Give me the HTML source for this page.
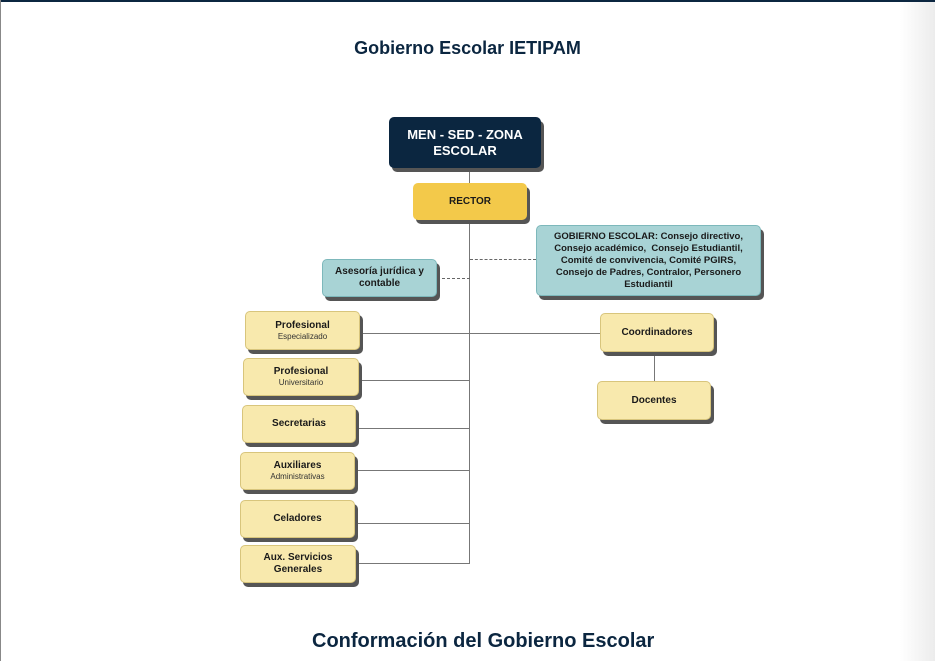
<!DOCTYPE html>
<html><head><meta charset="utf-8"><style>
body{margin:0;width:935px;height:661px;position:relative;overflow:hidden;background:#fff;font-family:"Liberation Sans",sans-serif}
.b{position:absolute;box-sizing:border-box;border-radius:5px;display:flex;flex-direction:column;align-items:center;justify-content:center;text-align:center;font-weight:bold;font-size:10px;color:#1a1a1a;box-shadow:3px 4px 0 #555;line-height:12px}
.y{background:#f8e9ad;border:1px solid #d8c57c}
.t{background:#a8d3d5;border:1px solid #7db8bb}
.s{font-weight:normal;font-size:8px;line-height:10px;color:#333}
.l{position:absolute;background:#777}
.d{position:absolute;border-top:1px dashed #666;height:0}
</style></head><body>
<div style="position:absolute;left:0;top:0;width:935px;height:2px;background:#0b2640"></div>
<div style="position:absolute;left:0;top:0;width:1px;height:661px;background:#888"></div>
<div style="position:absolute;left:900px;top:2px;width:35px;height:659px;background:linear-gradient(to right,#fff,#ececec)"></div>
<div style="position:absolute;left:0;width:935px;top:38px;text-align:center;font-size:18px;font-weight:bold;color:#0b2640">Gobierno Escolar IETIPAM</div>
<div style="position:absolute;left:312px;top:630px;font-size:20px;font-weight:bold;color:#0b2640">Conformación del Gobierno Escolar</div>

<div class="l" style="left:469px;top:168px;width:1px;height:396px"></div>
<div class="d" style="left:470px;top:259px;width:66px"></div>
<div class="d" style="left:437px;top:278px;width:33px"></div>
<div class="l" style="left:360px;top:333px;width:240px;height:1px"></div>
<div class="l" style="left:359px;top:380px;width:111px;height:1px"></div>
<div class="l" style="left:356px;top:428px;width:114px;height:1px"></div>
<div class="l" style="left:355px;top:470px;width:115px;height:1px"></div>
<div class="l" style="left:355px;top:523px;width:115px;height:1px"></div>
<div class="l" style="left:356px;top:563px;width:114px;height:1px"></div>
<div class="l" style="left:654px;top:352px;width:1px;height:29px"></div>

<div class="b" style="left:389px;top:117px;width:152px;height:51px;background:#0b2640;color:#fff;font-size:13px;line-height:16px">MEN - SED - ZONA<br>ESCOLAR</div>
<div class="b" style="left:413px;top:183px;width:114px;height:37px;background:#f3c94a">RECTOR</div>
<div class="b t" style="left:536px;top:225px;width:225px;height:71px;font-size:9.5px">GOBIERNO ESCOLAR: Consejo directivo,<br>Consejo académico,&nbsp; Consejo Estudiantil,<br>Comité de convivencia, Comité PGIRS,<br>Consejo de Padres, Contralor, Personero<br>Estudiantil</div>
<div class="b t" style="left:322px;top:259px;width:115px;height:38px">Asesoría jurídica y<br>contable</div>
<div class="b y" style="left:245px;top:311px;width:115px;height:39px">Profesional<span class="s">Especializado</span></div>
<div class="b y" style="left:600px;top:313px;width:114px;height:39px">Coordinadores</div>
<div class="b y" style="left:243px;top:358px;width:116px;height:38px">Profesional<span class="s">Universitario</span></div>
<div class="b y" style="left:597px;top:381px;width:114px;height:39px">Docentes</div>
<div class="b y" style="left:242px;top:405px;width:114px;height:38px">Secretarias</div>
<div class="b y" style="left:240px;top:452px;width:115px;height:38px">Auxiliares<span class="s">Administrativas</span></div>
<div class="b y" style="left:240px;top:500px;width:115px;height:38px">Celadores</div>
<div class="b y" style="left:240px;top:545px;width:116px;height:38px">Aux. Servicios<br>Generales</div>
</body></html>
